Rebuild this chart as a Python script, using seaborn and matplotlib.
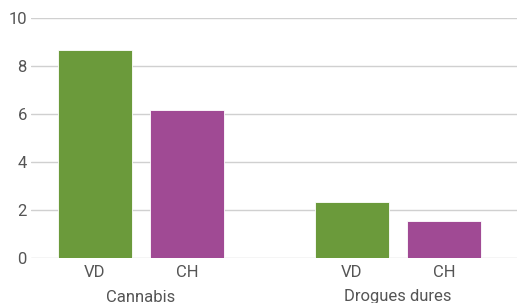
import matplotlib
matplotlib.use("Agg")
import matplotlib.pyplot as plt
import matplotlib.transforms as mtransforms
import seaborn as sns
import pandas as pd

groups = ["Cannabis", "Cannabis", "Drogues dures", "Drogues dures"]
regions = ["VD", "CH", "VD", "CH"]
values = [8.67, 6.17, 2.33, 1.54]
yticks = [0, 2, 4, 6, 8, 10]
palette = {"VD": "#6b9a3b", "CH": "#a04a94"}

df = pd.DataFrame({"group": groups, "region": regions, "value": values})

sns.set_theme(style="white")
fam = ["Roboto", "DejaVu Sans"]
plt.rcParams["font.family"] = fam
txt = "#555555"

fig = plt.figure(figsize=(5.17, 3.03), dpi=100)
ax = fig.add_axes([31 / 517, 45 / 303, 486 / 517, 240 / 303])

sns.barplot(data=df, x="group", y="value", hue="region", palette=palette,
            width=0.716, gap=0.195, ax=ax, legend=False,
            edgecolor="#ffffff", linewidth=0.6, saturation=1)

ax.set_ylim(0, 10)
ax.set_xlim(-0.428, 1.463)
ax.set_yticks(yticks)
ax.set_yticklabels([str(t) for t in yticks], color=txt, fontsize=12)
ax.yaxis.grid(True, color="#d0d0d0", linewidth=1)
ax.set_axisbelow(True)
for s in ax.spines.values():
    s.set_visible(False)
ax.tick_params(axis="y", length=0, pad=3)

centers = []
for p in ax.patches:
    if p.get_height() > 0:
        centers.append(p.get_x() + p.get_width() / 2)
ax.set_xticks(sorted(centers))
ax.set_xticklabels(["VD", "CH", "VD", "CH"], color=txt, fontsize=12)
ax.tick_params(axis="x", length=0, pad=5)
ax.set_xlabel("")
ax.set_ylabel("")

trans = mtransforms.blended_transform_factory(ax.transData, fig.transFigure)
for i, g in enumerate(["Cannabis", "Drogues dures"]):
    ax.text(i, 1.5 / 303, g, transform=trans, ha="center", va="baseline",
            color=txt, fontsize=12, clip_on=False)

fig.savefig("out.png", dpi=100)
